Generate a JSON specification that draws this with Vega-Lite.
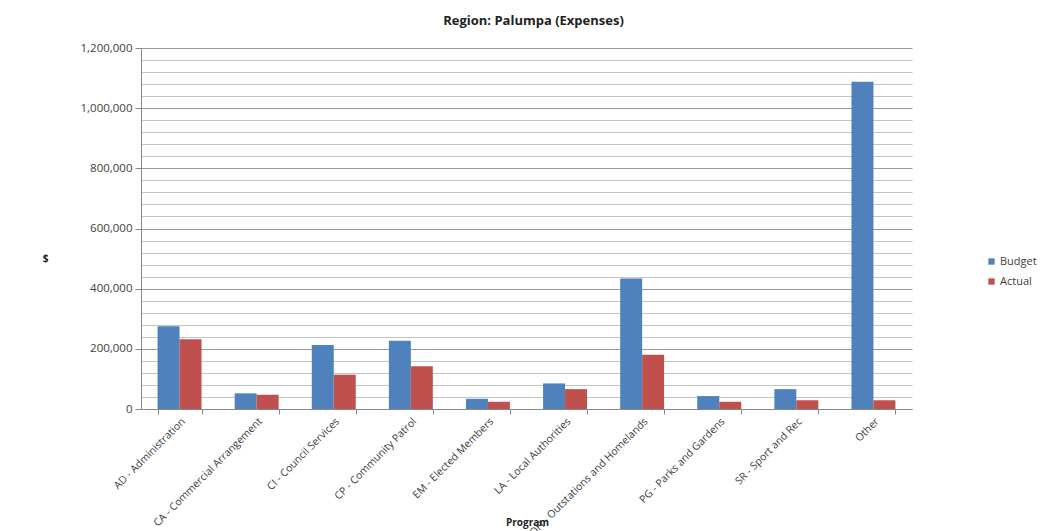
{
  "$schema": "https://vega.github.io/schema/vega-lite/v6.json",
  "width": 771,
  "height": 361,
  "autosize": {"type": "none"},
  "padding": {"left": 141, "top": 48, "right": 140, "bottom": 122},
  "background": "white",
  "title": {
    "text": "Region: Palumpa (Expenses)",
    "font": "Open Sans",
    "fontSize": 13,
    "fontWeight": "bold",
    "color": "#222222",
    "anchor": "middle",
    "offset": 14,
    "dx": 7
  },
  "data": {
    "values": [
      {"program": "AD - Administration", "series": "Budget", "value": 275000},
      {"program": "AD - Administration", "series": "Actual", "value": 232000},
      {"program": "CA - Commercial Arrangement", "series": "Budget", "value": 52000},
      {"program": "CA - Commercial Arrangement", "series": "Actual", "value": 47000},
      {"program": "CI - Council Services", "series": "Budget", "value": 213000},
      {"program": "CI - Council Services", "series": "Actual", "value": 114000},
      {"program": "CP - Community Patrol", "series": "Budget", "value": 227000},
      {"program": "CP - Community Patrol", "series": "Actual", "value": 142000},
      {"program": "EM - Elected Members", "series": "Budget", "value": 34000},
      {"program": "EM - Elected Members", "series": "Actual", "value": 24000},
      {"program": "LA - Local Authorities", "series": "Budget", "value": 85000},
      {"program": "LA - Local Authorities", "series": "Actual", "value": 66000},
      {"program": "OH - Outstations and Homelands", "series": "Budget", "value": 434000},
      {"program": "OH - Outstations and Homelands", "series": "Actual", "value": 180000},
      {"program": "PG - Parks and Gardens", "series": "Budget", "value": 43000},
      {"program": "PG - Parks and Gardens", "series": "Actual", "value": 24000},
      {"program": "SR - Sport and Rec", "series": "Budget", "value": 66000},
      {"program": "SR - Sport and Rec", "series": "Actual", "value": 29000},
      {"program": "Other", "series": "Budget", "value": 1088000},
      {"program": "Other", "series": "Actual", "value": 29000}
    ]
  },
  "mark": {"type": "bar"},
  "encoding": {
    "x": {
      "field": "program",
      "type": "nominal",
      "sort": null,
      "scale": {"paddingInner": 0.43, "paddingOuter": 0.215},
      "axis": {
        "title": "Program",
        "titleFont": "Open Sans",
        "titleFontSize": 10,
        "titleFontWeight": "bold",
        "titleColor": "#222222",
        "titleX": 386,
        "titleY": 108,
        "titleBaseline": "top",
        "labelAngle": -45,
        "labelAlign": "right",
        "labelBaseline": "top",
        "labelFont": "Open Sans",
        "labelFontSize": 10.5,
        "labelColor": "#404040",
        "labelPadding": 2,
        "labelOverlap": false,
        "labelLimit": 300,
        "tickBand": "extent",
        "tickSize": 5,
        "tickColor": "#888888",
        "domainColor": "#888888",
        "grid": false
      }
    },
    "xOffset": {"field": "series", "type": "nominal", "sort": ["Budget", "Actual"]},
    "y": {
      "field": "value",
      "type": "quantitative",
      "scale": {"domain": [0, 1200000], "nice": false},
      "axis": {
        "title": "$",
        "titleAngle": 0,
        "titleX": -96,
        "titleY": 210,
        "titleAlign": "center",
        "titleBaseline": "middle",
        "titleFont": "Open Sans",
        "titleFontSize": 10,
        "titleFontWeight": "bold",
        "titleColor": "#222222",
        "values": [0, 40000, 80000, 120000, 160000, 200000, 240000, 280000, 320000, 360000, 400000, 440000, 480000, 520000, 560000, 600000, 640000, 680000, 720000, 760000, 800000, 840000, 880000, 920000, 960000, 1000000, 1040000, 1080000, 1120000, 1160000, 1200000],
        "labelExpr": "datum.value % 200000 === 0 ? format(datum.value, ',') : ''",
        "labelFont": "Open Sans",
        "labelFontSize": 11.5,
        "labelColor": "#404040",
        "labelPadding": 3,
        "tickSize": 6,
        "tickColor": "#888888",
        "tickOpacity": {"condition": {"test": "datum.value % 200000 === 0", "value": 1}, "value": 0},
        "domainColor": "#888888",
        "grid": true,
        "gridColor": {"condition": {"test": "datum.value % 200000 === 0", "value": "#9a9a9a"}, "value": "#c4c4c4"},
        "gridWidth": 1.2
      }
    },
    "color": {
      "field": "series",
      "type": "nominal",
      "sort": ["Budget", "Actual"],
      "scale": {"domain": ["Budget", "Actual"], "range": ["#4F81BD", "#C0504D"]},
      "legend": {
        "title": null,
        "orient": "none",
        "legendX": 845,
        "legendY": 208,
        "symbolType": "square",
        "symbolSize": 40,
        "symbolStrokeWidth": 0,
        "labelFont": "Open Sans",
        "labelFontSize": 11,
        "labelColor": "#404040",
        "rowPadding": 8,
        "labelOffset": 3
      }
    }
  },
  "config": {"view": {"stroke": null}}
}
